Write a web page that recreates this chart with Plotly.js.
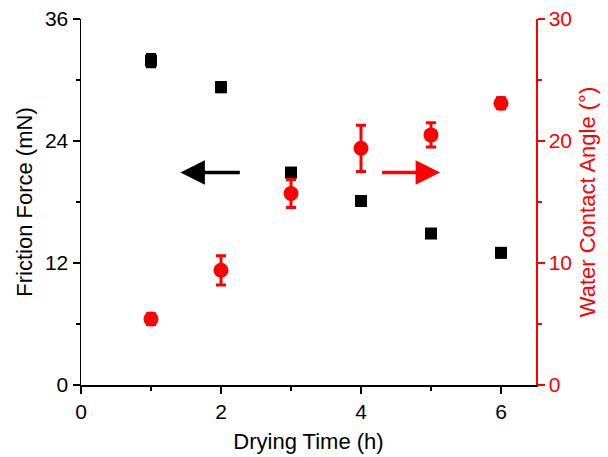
<!DOCTYPE html>
<html>
<head>
<meta charset="utf-8">
<script src="https://cdn.plot.ly/plotly-3.0.1.min.js"></script>
<style>html,body{margin:0;padding:0;background:#fff;}#chart{width:608px;height:457px;}</style>
</head>
<body>
<div id="chart"></div>
<script>
const dryingTime = [1, 2, 3, 4, 5, 6];
const frictionForce = [31.9, 29.3, 20.9, 18.1, 14.9, 13.0];
const frictionErr = [0.6, 0.45, 0.4, 0.35, 0.4, 0.4];
const contactAngle = [5.4, 9.4, 15.7, 19.4, 20.5, 23.1];
const contactAngleErr = [0.45, 1.2, 1.15, 1.9, 1.0, 0.45];

const font = 'Liberation Sans, Arial, sans-serif';

const traces = [
  {
    x: dryingTime, y: frictionForce, type: 'scatter', mode: 'markers',
    marker: {symbol: 'square', size: 12, color: '#000000'},
    error_y: {type: 'data', array: frictionErr, visible: true, color: '#000000', thickness: 3, width: 5},
    yaxis: 'y', showlegend: false
  },
  {
    x: dryingTime, y: contactAngle, type: 'scatter', mode: 'markers',
    marker: {symbol: 'circle', size: 15, color: '#ff0000'},
    error_y: {type: 'data', array: contactAngleErr, visible: true, color: '#ff0000', thickness: 3, width: 5},
    yaxis: 'y2', showlegend: false
  }
];

const layout = {
  width: 608, height: 457,
  margin: {l: 81, r: 72, t: 19, b: 72},
  paper_bgcolor: '#ffffff', plot_bgcolor: '#ffffff',
  font: {family: font, color: '#000000', size: 21},
  xaxis: {
    range: [0, 6.5], dtick: 2, tick0: 0,
    showline: true, linecolor: '#000000', linewidth: 1.5, mirror: false,
    ticks: 'outside', ticklen: 7, tickwidth: 1.5, tickcolor: '#000000',
    minor: {dtick: 1, ticks: 'outside', ticklen: 4, tickwidth: 1.5, tickcolor: '#000000'},
    showgrid: false, zeroline: false,
    tickfont: {size: 21, color: '#000000'},
    title: {text: 'Drying Time (h)', font: {size: 22, color: '#000000'}, standoff: 12}
  },
  yaxis: {
    range: [0, 36], dtick: 12, tick0: 0,
    showline: true, linecolor: '#000000', linewidth: 1.5,
    ticks: 'outside', ticklen: 7, tickwidth: 1.5, tickcolor: '#000000',
    minor: {dtick: 6, ticks: 'outside', ticklen: 4, tickwidth: 1.5, tickcolor: '#000000'},
    showgrid: false, zeroline: false,
    tickfont: {size: 21, color: '#000000'},
    title: {text: 'Friction Force (mN)', font: {size: 22, color: '#000000'}, standoff: 6}
  },
  yaxis2: {
    range: [0, 30], dtick: 10, tick0: 0,
    overlaying: 'y', side: 'right', anchor: 'x',
    showline: true, linecolor: '#ff0000', linewidth: 1.5,
    ticks: 'outside', ticklen: 7, tickwidth: 1.5, tickcolor: '#ff0000',
    minor: {dtick: 5, ticks: 'outside', ticklen: 4, tickwidth: 1.5, tickcolor: '#ff0000'},
    showgrid: false, zeroline: false,
    tickfont: {size: 21, color: '#ff0000'},
    title: {text: 'Water Contact Angle (°)', font: {size: 22, color: '#ff0000'}, standoff: 8}
  },
  annotations: [
    {x: 1.42, y: 20.9, ax: 2.29, ay: 20.9, xref: 'x', yref: 'y', axref: 'x', ayref: 'y',
     text: '', showarrow: true, arrowhead: 2, arrowsize: 1.4, arrowwidth: 3.5, arrowcolor: '#000000'},
    {x: 5.13, y: 20.9, ax: 4.28, ay: 20.9, xref: 'x', yref: 'y', axref: 'x', ayref: 'y',
     text: '', showarrow: true, arrowhead: 2, arrowsize: 1.4, arrowwidth: 3.5, arrowcolor: '#ff0000'}
  ]
};

Plotly.newPlot('chart', traces, layout, {displayModeBar: false, staticPlot: true});
</script>
</body>
</html>
